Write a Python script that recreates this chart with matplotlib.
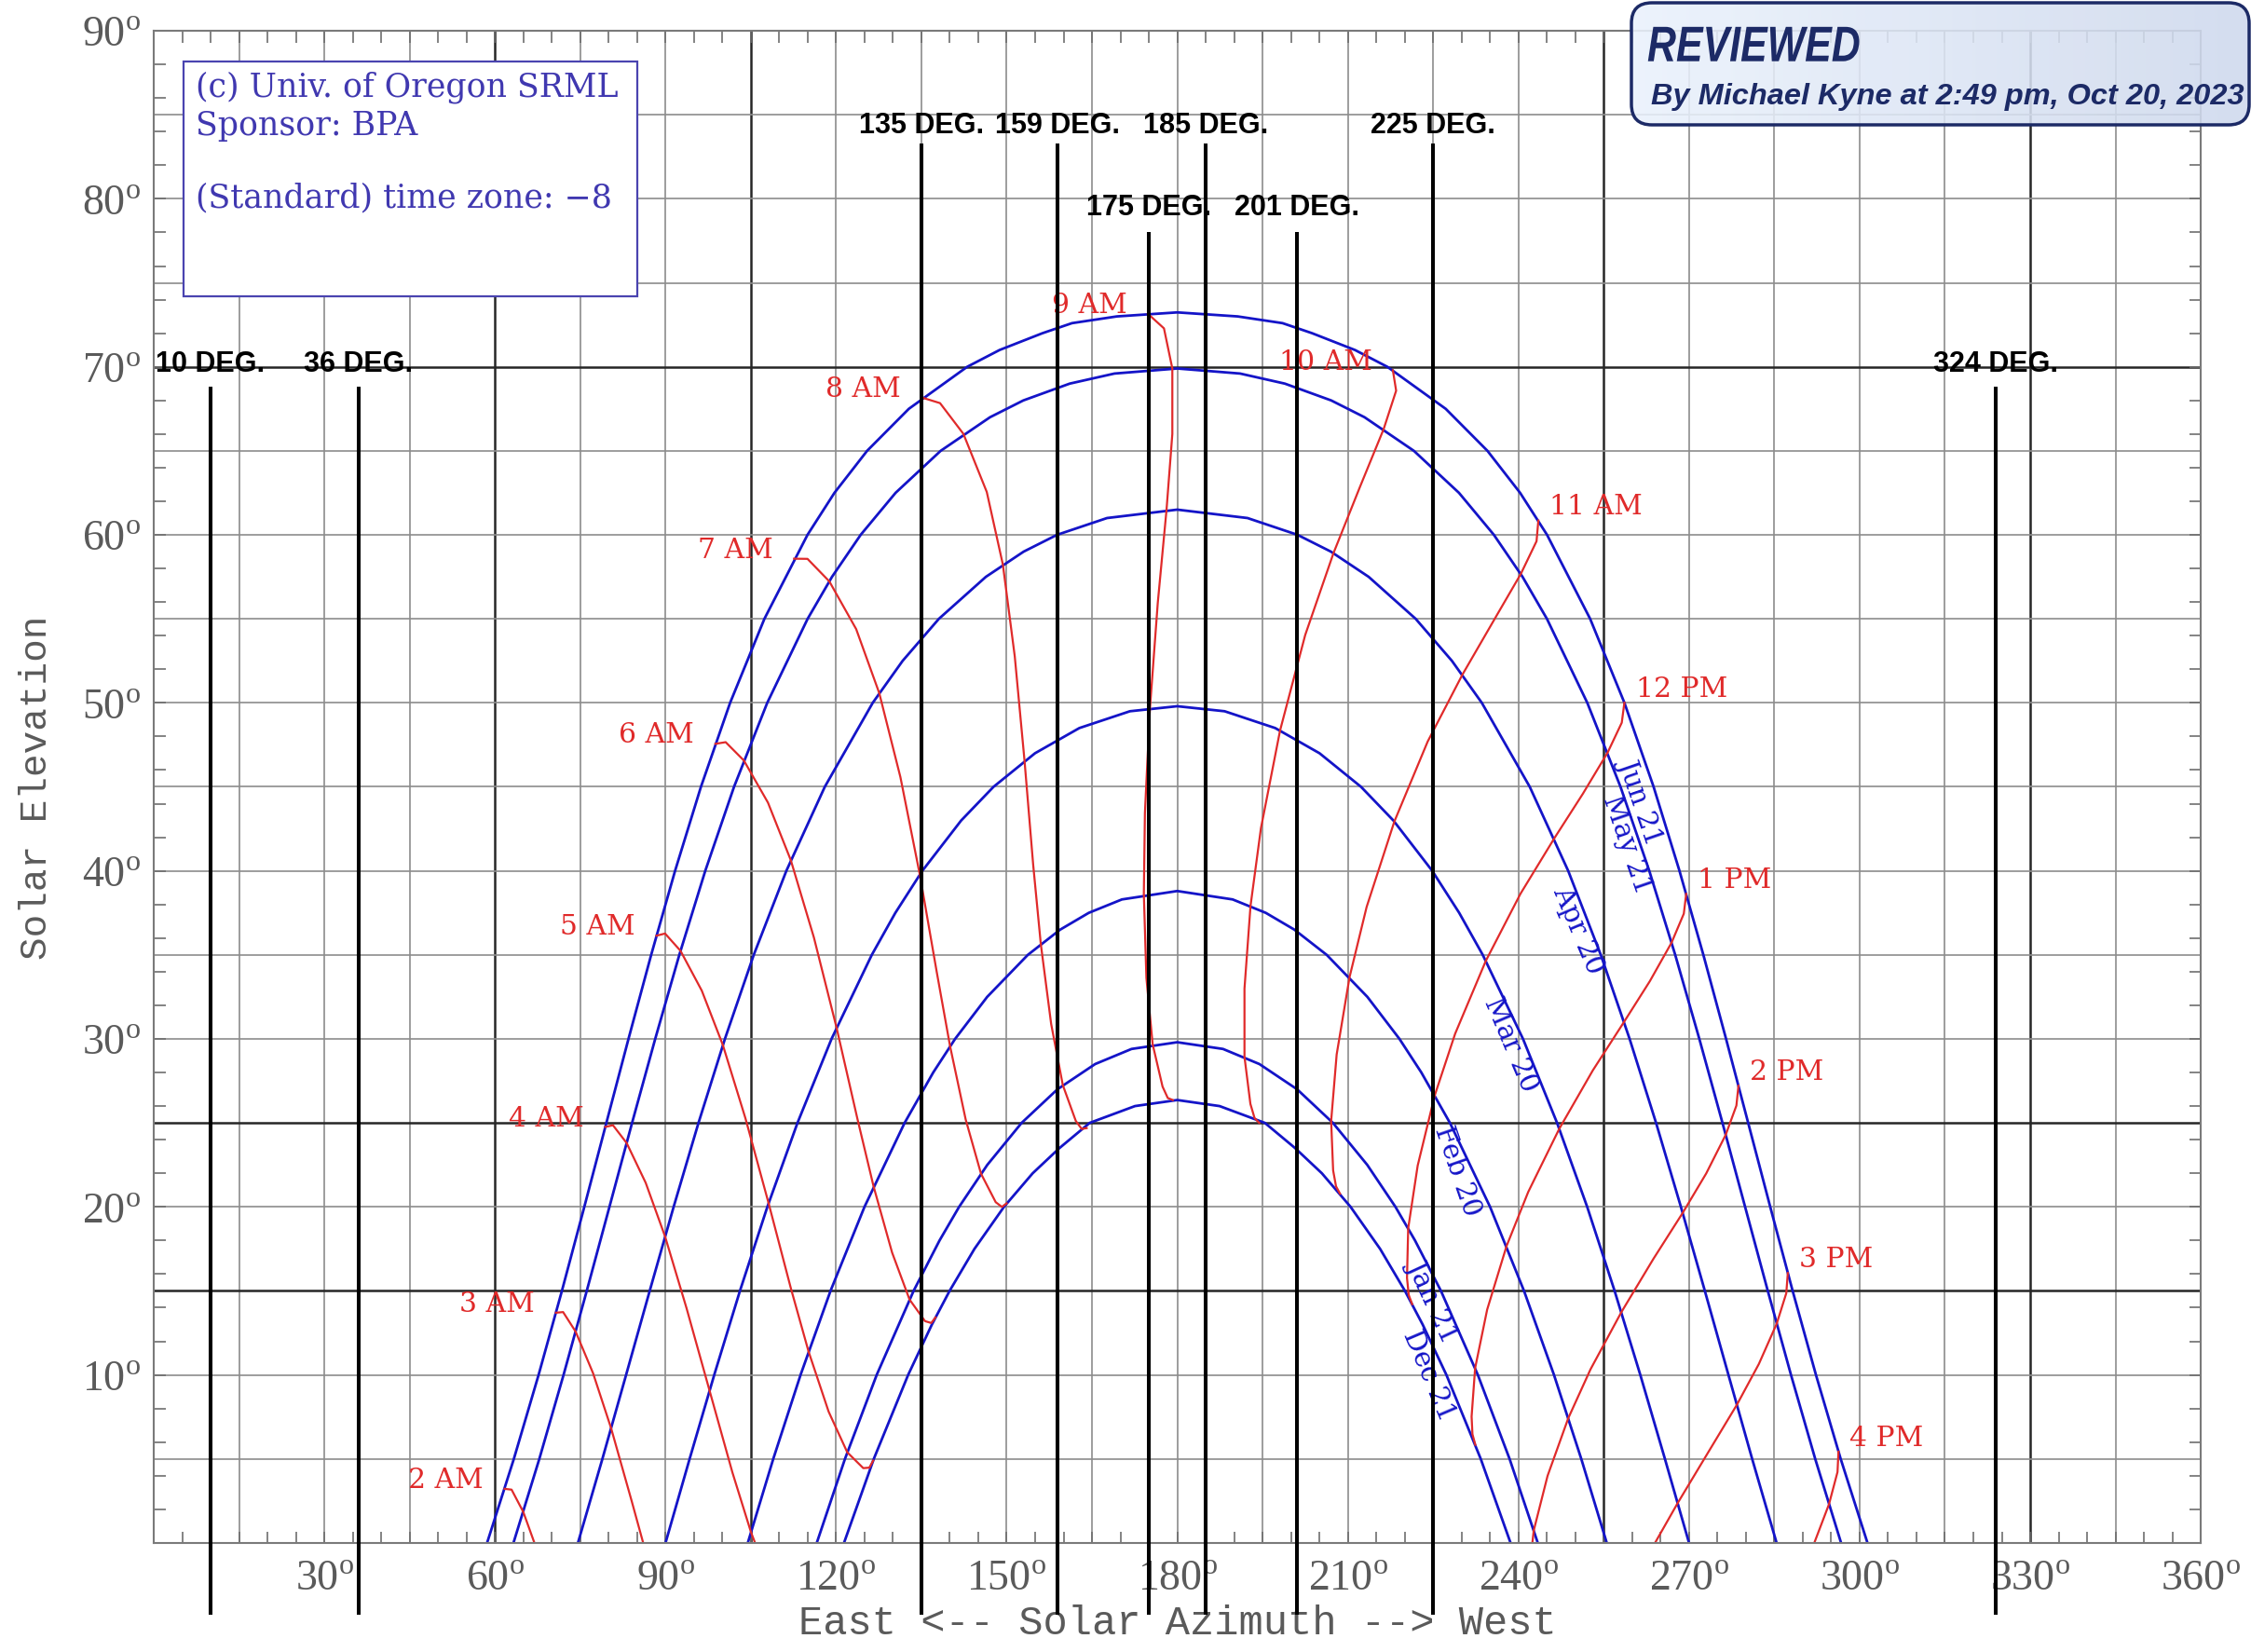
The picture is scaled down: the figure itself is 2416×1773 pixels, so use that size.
import matplotlib
matplotlib.use("Agg")
import matplotlib.pyplot as plt
import numpy as np
from matplotlib.patches import FancyBboxPatch, Rectangle, PathPatch
from matplotlib.transforms import IdentityTransform, Affine2D
from matplotlib.textpath import TextPath
from matplotlib.font_manager import FontProperties

# ---------------- sun path (date) curves: azimuth / elevation, degrees ----------------
jun21_az = [58.62, 63.33, 67.68, 71.78, 75.72, 79.60, 83.49, 87.48, 91.68, 96.23, 101.36, 107.39, 114.97,
            119.71, 125.45, 132.79, 143.05, 148.74, 156.28, 161.49, 169.37, 180.00, 190.63, 198.51, 203.72,
            211.26, 216.95, 227.21, 234.55, 240.29, 245.03, 252.61, 258.64, 263.77, 268.32, 272.52, 276.51,
            280.40, 284.28, 288.22, 292.32, 296.67, 301.38]
jun21_el = [0, 5, 10, 15, 20, 25, 30, 35, 40, 45, 50, 55, 60, 62.5, 65, 67.5, 70, 71, 72, 72.6, 73, 73.24,
            73, 72.6, 72, 71, 70, 67.5, 65, 62.5, 60, 55, 50, 45, 40, 35, 30, 25, 20, 15, 10, 5, 0]

may21_az = [63.26, 67.81, 72.07, 76.15, 80.14, 84.12, 88.19, 92.43, 96.99, 102.05, 107.89, 114.99, 119.28,
            124.32, 130.46, 138.39, 147.07, 152.93, 161.08, 168.95, 180.00, 191.05, 198.92, 207.07, 212.93,
            221.61, 229.54, 235.68, 240.72, 245.01, 252.11, 257.95, 263.01, 267.57, 271.81, 275.88, 279.86,
            283.85, 287.93, 292.19, 296.74]
may21_el = [0, 5, 10, 15, 20, 25, 30, 35, 40, 45, 50, 55, 57.5, 60, 62.5, 65, 67, 68, 69, 69.6, 69.9,
            69.6, 69, 68, 67, 65, 62.5, 60, 57.5, 55, 50, 45, 40, 35, 30, 25, 20, 15, 10, 5, 0]

apr20_az = [74.60, 78.90, 83.07, 87.22, 91.43, 95.80, 100.45, 105.52, 111.25, 118.01, 126.44, 131.70,
            138.07, 146.34, 152.98, 158.85, 167.65, 180.00, 192.35, 201.15, 207.02, 213.66, 221.93, 228.30,
            233.56, 241.99, 248.75, 254.48, 259.55, 264.20, 268.57, 272.78, 276.93, 281.10, 285.40]
apr20_el = [0, 5, 10, 15, 20, 25, 30, 35, 40, 45, 50, 52.5, 55, 57.5, 59, 60, 61, 61.5, 61, 60, 59, 57.5,
            55, 52.5, 50, 45, 40, 35, 30, 25, 20, 15, 10, 5, 0]

mar20_az = [90.00, 94.24, 98.57, 103.09, 107.91, 113.21, 119.20, 126.28, 130.42, 135.16, 142.00, 147.68,
            154.98, 162.78, 171.67, 180.00, 188.33, 197.22, 205.02, 212.32, 218.00, 224.84, 229.58, 233.72,
            240.80, 246.79, 252.09, 256.91, 261.43, 265.76, 270.00]
mar20_el = [0, 5, 10, 15, 20, 25, 30, 35, 37.5, 40, 43, 45, 47, 48.5, 49.5, 49.8, 49.5, 48.5, 47, 45, 43,
            40, 37.5, 35, 30, 25, 20, 15, 10, 5, 0]

feb20_az = [104.47, 108.95, 113.75, 119.02, 124.99, 132.05, 137.08, 140.93, 146.57, 153.72, 159.40, 164.43,
            170.27, 180.00, 189.73, 195.57, 200.60, 206.28, 213.43, 219.07, 222.92, 227.95, 235.01, 240.98,
            246.25, 251.05, 255.53]
feb20_el = [0, 5, 10, 15, 20, 25, 28, 30, 32.5, 35, 36.5, 37.5, 38.3, 38.8, 38.3, 37.5, 36.5, 35, 32.5, 30,
            28, 25, 20, 15, 10, 5, 0]

jan21_az = [116.60, 121.56, 127.14, 133.63, 138.19, 141.63, 146.59, 152.63, 158.93, 165.55, 171.96, 180.00,
            188.04, 194.45, 201.07, 207.37, 213.41, 218.37, 221.81, 226.37, 232.86, 238.44, 243.40]
jan21_el = [0, 5, 10, 15, 18, 20, 22.5, 25, 27, 28.5, 29.4, 29.8, 29.4, 28.5, 27, 25, 22.5, 20, 18, 15, 10,
            5, 0]

dec21_az = [121.39, 126.63, 132.67, 136.85, 139.96, 144.33, 149.52, 154.57, 159.28, 164.60, 172.56, 180.00,
            187.44, 195.40, 200.72, 205.43, 210.48, 215.67, 220.04, 223.15, 227.33, 233.37, 238.61]
dec21_el = [0, 5, 10, 13, 15, 17.5, 20, 22, 23.5, 25, 26, 26.36, 26, 25, 23.5, 22, 20, 17.5, 15, 13, 10, 5, 0]

date_names = ['Jun 21', 'May 21', 'Apr 20', 'Mar 20', 'Feb 20', 'Jan 21', 'Dec 21']

# ---------------- hour lines (red): from the Dec 21 end to the Jun 21 end ----------------
am2_az = [70.78, 67.82, 64.98, 62.93, 61.70]
am2_el = [-4.26, -0.82, 1.85, 3.17, 3.22]
am3_az = [88.00, 84.02, 80.43, 77.26, 74.19, 71.99, 70.73]
am3_el = [-2.37, 2.53, 6.83, 10.10, 12.58, 13.74, 13.70]
am4_az = [108.77, 105.03, 101.76, 97.75, 93.70, 89.93, 86.52, 83.17, 80.76, 79.41]
am4_el = [-2.67, 0.64, 4.20, 9.06, 13.97, 18.23, 21.43, 23.80, 24.86, 24.76]
am5_az = [126.52, 125.84, 124.78, 121.97, 118.69, 115.16, 112.05, 108.13, 104.05, 100.09, 96.38, 92.64, 89.92, 88.41]
am5_el = [4.90, 4.48, 4.45, 5.39, 7.81, 11.39, 15.15, 20.22, 25.28, 29.63, 32.87, 35.24, 36.27, 36.14]
am6_az = [137.48, 136.73, 135.64, 132.91, 129.85, 126.59, 123.73, 120.08, 116.10, 112.04, 108.02, 103.78, 100.58, 98.77]
am6_el = [13.42, 13.09, 13.20, 14.49, 17.28, 21.22, 25.27, 30.67, 36.03, 40.63, 44.06, 46.57, 47.66, 47.56]
am7_az = [149.99, 149.16, 148.07, 145.48, 142.79, 140.04, 137.71, 134.72, 131.31, 127.59, 123.53, 118.81, 114.97, 112.61]
am7_el = [20.21, 20.00, 20.28, 21.98, 25.20, 29.57, 33.96, 39.78, 45.58, 50.58, 54.39, 57.23, 58.57, 58.58]
am8_az = [164.07, 163.19, 162.15, 159.87, 157.82, 156.00, 154.66, 153.14, 151.42, 149.33, 146.50, 142.39, 138.28, 135.11]
am8_el = [24.69, 24.64, 25.12, 27.25, 30.89, 35.65, 40.36, 46.55, 52.77, 58.23, 62.55, 66.01, 67.84, 68.17]
am9_az = [179.21, 178.33, 177.41, 175.67, 174.57, 174.12, 174.31, 175.20, 176.57, 178.11, 179.13, 179.13, 177.66, 174.83]
am9_el = [26.36, 26.48, 27.16, 29.68, 33.63, 38.62, 43.44, 49.70, 55.95, 61.49, 66.00, 69.90, 72.29, 73.16]
am10_az = [194.41, 193.59, 192.86, 191.82, 191.82, 192.88, 194.71, 198.08, 202.50, 207.47, 212.10, 216.30, 218.49, 217.92]
am10_el = [25.00, 25.29, 26.13, 28.93, 32.99, 37.91, 42.53, 48.36, 54.04, 58.91, 62.83, 66.30, 68.58, 69.79]
am11_az = [208.63, 207.92, 207.41, 207.06, 208.03, 210.30, 213.30, 218.17, 224.04, 230.13, 235.55, 240.41, 243.18, 243.50]
am11_el = [20.78, 21.22, 22.17, 25.11, 29.07, 33.68, 37.85, 42.93, 47.70, 51.67, 54.84, 57.67, 59.62, 60.85]
pm12_az = [221.31, 220.71, 220.40, 220.61, 222.28, 225.29, 228.87, 234.27, 240.36, 246.29, 251.33, 255.68, 258.17, 258.63]
pm12_el = [14.21, 14.75, 15.77, 18.72, 22.46, 26.65, 30.31, 34.65, 38.64, 41.93, 44.59, 47.04, 48.82, 50.01]
pm1_az = [232.42, 231.91, 231.76, 232.38, 234.50, 237.91, 241.72, 247.18, 253.07, 258.57, 263.10, 266.93, 269.08, 269.50]
pm1_el = [5.84, 6.47, 7.52, 10.40, 13.89, 17.67, 20.89, 24.65, 28.12, 31.01, 33.43, 35.73, 37.45, 38.63]
pm2_az = [241.77, 242.69, 245.12, 248.77, 252.67, 258.09, 263.74, 268.88, 273.02, 276.45, 278.33, 278.69]
pm2_el = [-2.06, 0.74, 3.99, 7.43, 10.33, 13.73, 16.91, 19.64, 21.99, 24.29, 26.03, 27.21]
pm3_az = [258.59, 262.59, 268.00, 273.51, 278.41, 282.28, 285.42, 287.10, 287.37]
pm3_el = [-3.55, -0.85, 2.37, 5.47, 8.22, 10.65, 13.05, 14.86, 16.06]
pm4_az = [288.00, 291.69, 294.61, 296.11, 296.28]
pm4_el = [-2.93, -0.30, 2.30, 4.22, 5.43]

hour_names = ['2 AM', '3 AM', '4 AM', '5 AM', '6 AM', '7 AM', '8 AM', '9 AM', '10 AM',
              '11 AM', '12 PM', '1 PM', '2 PM', '3 PM', '4 PM']

# black reference lines added on top of the chart
deg_marks = [10, 36, 135, 159, 175, 185, 201, 225, 324]

# ---------------- figure ----------------
plt.rcParams['mathtext.fontset'] = 'custom'
plt.rcParams['mathtext.rm'] = 'Liberation Serif'

fig = plt.figure(figsize=(24.16, 17.74), dpi=100)
ax = fig.add_axes([0.0683, 0.0660, 0.9094, 0.9148])
ax.set_xlim(0, 360)
ax.set_ylim(0, 90)

grid_light = '#8c8c8c'
grid_dark = '#262626'
for a in range(15, 360, 15):
    dark = a in (60, 105, 255, 330)
    ax.axvline(a, color=grid_dark if dark else grid_light, lw=1.8 if dark else 1.2, zorder=0.5)
for e in range(5, 90, 5):
    dark = e in (15, 25, 70)
    ax.axhline(e, color=grid_dark if dark else grid_light, lw=1.8 if dark else 1.2, zorder=0.5)

for s in ax.spines.values():
    s.set_color('#7a7a7a')
    s.set_linewidth(1.5)

deg = '$^{\\mathrm{o}}$'
ax.set_xticks(range(30, 361, 30))
ax.set_xticklabels([f'{v}{deg}' for v in range(30, 361, 30)])
ax.set_xticks(range(5, 360, 5), minor=True)
ax.set_yticks(range(10, 91, 10))
ax.set_yticklabels([f'{v}{deg}' for v in range(10, 91, 10)])
ax.set_yticks(range(2, 90, 2), minor=True)
ax.tick_params(which='both', direction='in', top=True, right=True, length=9, width=1.2, color='#6e6e6e')
ax.tick_params(axis='x', which='major', pad=13)
ax.tick_params(axis='y', which='major', pad=10)
for lab in ax.get_xticklabels() + ax.get_yticklabels():
    lab.set_fontfamily('Liberation Serif')
    lab.set_fontsize(33)
    lab.set_color('#5a5a5a')

ax.text(0.5, -0.053, 'East <-- Solar Azimuth --> West', transform=ax.transAxes, ha='center', va='center',
        fontsize=31.5, family='Liberation Mono', color='#5a5a5a')
ax.text(-0.0575, 0.5, 'Solar Elevation', transform=ax.transAxes, ha='center', va='center', rotation=90,
        fontsize=29.5, family='Liberation Mono', color='#5a5a5a')

# date curves
blue = '#1414c8'
curves = [(jun21_az, jun21_el), (may21_az, may21_el), (apr20_az, apr20_el), (mar20_az, mar20_el),
          (feb20_az, feb20_el), (jan21_az, jan21_el), (dec21_az, dec21_el)]
for az, el in curves:
    ax.plot(az, el, color=blue, lw=2.0, zorder=2)

date_label_pos = [(261.6, 44.2, -71), (259.1, 41.6, -71), (250.4, 36.5, -67), (238.6, 29.7, -67),
                  (229.2, 22.2, -71), (224.9, 14.5, -65), (224.2, 10.0, -67)]
for name, (x, y, rot) in zip(date_names, date_label_pos):
    ax.text(x, y, name, rotation=rot, rotation_mode='anchor', ha='center', va='center',
            fontsize=21, family='DejaVu Serif', color=blue, zorder=3)

# hour lines
red = '#e02a2a'
hours = [(am2_az, am2_el), (am3_az, am3_el), (am4_az, am4_el), (am5_az, am5_el), (am6_az, am6_el),
         (am7_az, am7_el), (am8_az, am8_el), (am9_az, am9_el), (am10_az, am10_el), (am11_az, am11_el),
         (pm12_az, pm12_el), (pm1_az, pm1_el), (pm2_az, pm2_el), (pm3_az, pm3_el), (pm4_az, pm4_el)]
for i, (name, (az, el)) in enumerate(zip(hour_names, hours)):
    ax.plot(az, el, color=red, lw=1.6, zorder=2)
    if i <= 8:
        ax.text(az[-1] - 3.7, el[-1] + 0.55, name, ha='right', va='center', fontsize=21.5,
                family='DejaVu Serif', color=red, zorder=3)
    else:
        ax.text(az[-1] + 2.0, el[-1] + 0.85, name, ha='left', va='center', fontsize=21.5,
                family='DejaVu Serif', color=red, zorder=3)

# info box
ax.add_patch(Rectangle((5.3, 74.2), 79.8, 14.0, facecolor='white', edgecolor='#4a44b0', lw=1.6, zorder=3))
box_lines = ['(c) Univ. of Oregon SRML', 'Sponsor: BPA', '(Standard) time zone: \u22128']
for txt, y in zip(box_lines, [86.7, 84.4, 80.1]):
    ax.text(7.3, y, txt, ha='left', va='center', fontsize=25, family='DejaVu Serif', color='#4038b0', zorder=4)

# black marker lines with labels
tops = {10: 68.8, 36: 68.8, 135: 83.3, 159: 83.3, 175: 78.0, 185: 83.3, 201: 78.0, 225: 83.3, 324: 68.8}
label_el = {68.8: 70.2, 83.3: 84.4, 78.0: 79.5}
for d in deg_marks:
    top = tops[d]
    ax.plot([d, d], [top, -4.3], color='black', lw=2.9, clip_on=False, zorder=5, solid_capstyle='butt')
    ax.text(d, label_el[top], f'{d} DEG.', ha='center', va='center', fontsize=22, fontweight='bold',
            family='Liberation Sans', color='black', zorder=6)

# "REVIEWED" stamp in the top right corner (pixel coordinates)
x0, y0, w, h = 1751, 1774 - 135, 663, 131
grad = np.zeros((h, w, 4))
t = np.linspace(0, 1, w)
grad[:, :, 0] = 0.92 - 0.11 * t
grad[:, :, 1] = 0.95 - 0.10 * t
grad[:, :, 2] = 0.99 - 0.06 * t
grad[:, :, 3] = 0.88
stamp = FancyBboxPatch((x0, y0), w, h, boxstyle='round,pad=0,rounding_size=22', transform=IdentityTransform(),
                       facecolor='none', edgecolor='#1c2a66', lw=2.5, zorder=11)
fig.add_artist(stamp)
im = fig.figimage(grad, xo=x0, yo=y0, origin='upper', zorder=10)
im.set_clip_path(stamp)

# condensed bold italic title, squeezed horizontally
fp = FontProperties(family='Liberation Sans', weight='bold', style='italic')
tp = TextPath((0, 0), 'REVIEWED', size=53.6, prop=fp)
fig.add_artist(PathPatch(tp, transform=Affine2D().scale(0.80, 1.0).translate(1768, 1774 - 66.7),
                         facecolor='#1c2a66', edgecolor='none', zorder=12))
fig.text(1772 / 2416, (1774 - 111.7) / 1774, 'By Michael Kyne at 2:49 pm, Oct 20, 2023', ha='left',
         va='baseline', fontsize=23.4, fontweight='bold', fontstyle='italic', family='Liberation Sans',
         color='#1c2a66', zorder=12)

fig.savefig('out.png', dpi=100, facecolor='white')
